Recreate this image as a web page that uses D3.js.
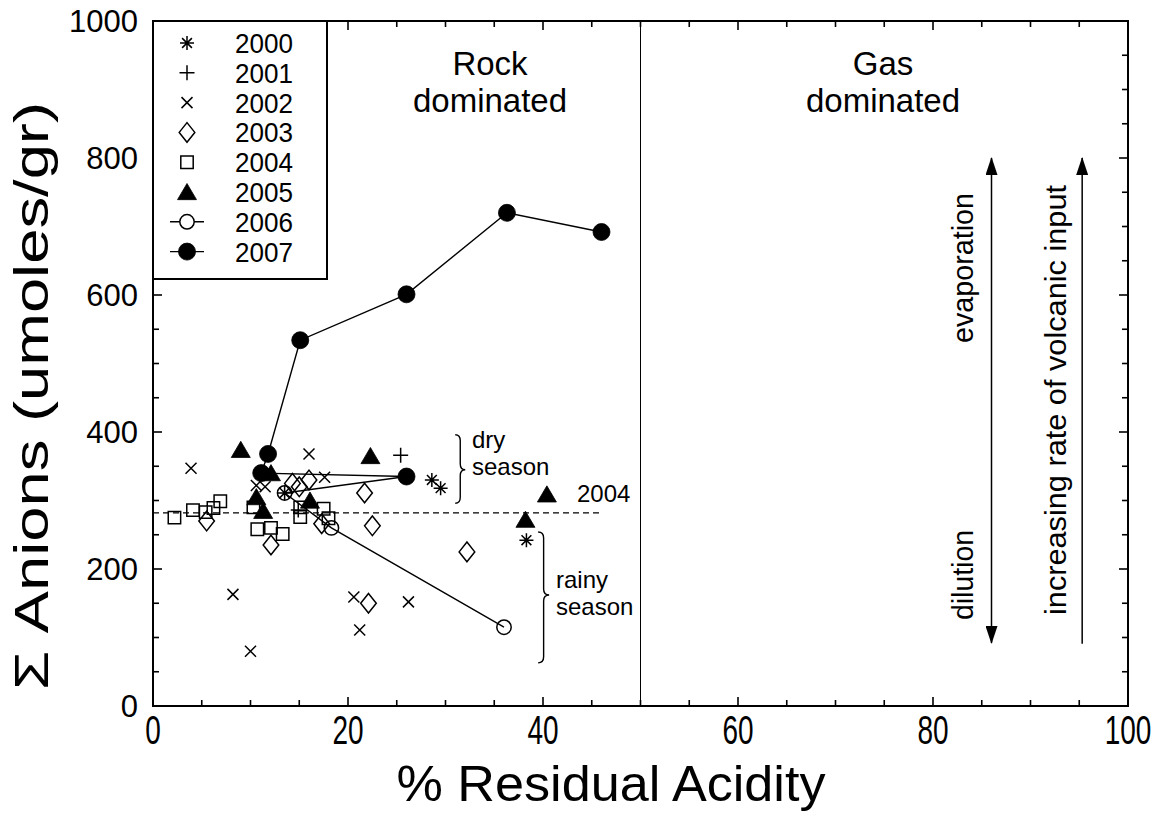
<!DOCTYPE html>
<html>
<head>
<meta charset="utf-8">
<script src="https://cdn.jsdelivr.net/npm/d3@7"></script>
<style>
  html, body { margin: 0; padding: 0; background: #fff; }
  svg { display: block; font-family: "Liberation Sans", Arial, sans-serif; }
</style>
</head>
<body>
<svg id="chart" width="1166" height="818"></svg>
<script>
// Residual acidity vs. total anions, by sampling year
const years = ["2000", "2001", "2002", "2003", "2004", "2005", "2006", "2007"];

const s2000 = [[13.5, 311], [28.6, 330], [29.5, 318], [38.3, 242]];
const s2001 = [[25.4, 366], [14.9, 286]];
const s2002 = [[3.9, 347], [10.6, 322], [11.5, 320], [16.0, 368], [17.6, 334],
               [8.2, 163], [10.0, 80], [20.6, 159], [21.2, 111], [26.2, 152]];
const s2003 = [[5.5, 270], [12.1, 235], [14.3, 325], [15.0, 320], [16.0, 330],
               [17.3, 266], [21.7, 311], [22.5, 263], [32.2, 225], [22.1, 150]];
const s2004 = [[2.2, 275], [4.1, 286], [5.4, 283], [6.2, 289], [6.9, 299],
               [10.3, 290], [10.7, 258], [12.1, 260], [13.3, 251], [15.1, 290],
               [15.1, 276], [17.5, 288], [18.0, 274]];
const s2005 = [[9.0, 374], [12.1, 340], [10.6, 305], [11.3, 285], [16.1, 300],
               [22.3, 365], [40.4, 309], [38.2, 272]];
const s2006 = [[26.0, 335], [13.5, 311], [18.3, 260], [36.0, 115]];
const s2007 = [[46.0, 692], [36.3, 720], [26.0, 601], [15.1, 534], [11.8, 368],
               [11.1, 340], [26.0, 335]];

const seriesValues = [s2000, s2001, s2002, s2003, s2004, s2005, s2006, s2007];
const markerKinds = ["asterisk", "plus", "cross", "diamond", "square", "triangle", "openCircle", "filledCircle"];
const connected = [false, false, false, false, false, false, true, true];

const xTickLabels = [0, 20, 40, 60, 80, 100];
const yTickLabels = [0, 200, 400, 600, 800, 1000];

// 2004 reference level and the region boundary
const refLevel = 282;
const refLevelEnd = 46;
const boundary = 50;

// vertical process arrows: [x, yFrom, yTo, double-headed]
const processArrows = [[86, 92, 800, true], [95.3, 91, 800, false]];

// ---------------------------------------------------------------
const svg = d3.select("#chart");
const L = 153, R = 1128, T = 21, B = 706;

const x = d3.scaleLinear().domain([0, 100]).range([L, R]);
const y = d3.scaleLinear().domain([0, 1000]).range([B, T]);

// marker shapes
function markerPath(kind) {
  switch (kind) {
    case "asterisk": {
      const r = 7, d = r * 0.7;
      return `M0,${-r}V${r}M${-d},${-d}L${d},${d}M${-d},${d}L${d},${-d}M${-r},0H${r}`;
    }
    case "plus": { const r = 7.5; return `M${-r},0H${r}M0,${-r}V${r}`; }
    case "cross": { const r = 5.5; return `M${-r},${-r}L${r},${r}M${-r},${r}L${r},${-r}`; }
    case "diamond": { const w = 7.8, h = 9.8; return `M0,${-h}L${w},0L0,${h}L${-w},0Z`; }
    case "square": { const s = 6.2; return `M${-s},${-s}H${s}V${s}H${-s}Z`; }
    case "triangle": { const w = 9.5, h = 8.5; return `M0,${-h}L${w},${h*0.9}L${-w},${h*0.9}Z`; }
    case "openCircle": return d3.arc()({innerRadius: 0, outerRadius: 7.2, startAngle: 0, endAngle: 2 * Math.PI});
    case "filledCircle": return d3.arc()({innerRadius: 0, outerRadius: 8.5, startAngle: 0, endAngle: 2 * Math.PI});
  }
}
const isSolid = kind => kind === "triangle" || kind === "filledCircle";

// region divider
svg.append("line")
  .attr("x1", x(boundary)).attr("x2", x(boundary))
  .attr("y1", T).attr("y2", B)
  .attr("stroke", "#000").attr("stroke-width", 1);

// 2004 dashed reference line
svg.append("line")
  .attr("x1", x(0)).attr("x2", x(refLevelEnd))
  .attr("y1", y(refLevel)).attr("y2", y(refLevel))
  .attr("stroke", "#000").attr("stroke-width", 1.2)
  .attr("stroke-dasharray", "6,4");

// connecting lines
const line = d3.line().x(d => x(d[0])).y(d => y(d[1]));
seriesValues.forEach((vals, i) => {
  if (!connected[i]) return;
  svg.append("path").attr("d", line(vals))
    .attr("fill", "none").attr("stroke", "#000").attr("stroke-width", 1.4);
});

// markers (filled circles last so they sit on top)
const drawOrder = [4, 3, 2, 1, 0, 6, 5, 7];
drawOrder.forEach(i => {
  const kind = markerKinds[i];
  svg.append("g").selectAll("path").data(seriesValues[i]).join("path")
    .attr("transform", d => `translate(${x(d[0])},${y(d[1])})`)
    .attr("d", markerPath(kind))
    .attr("fill", isSolid(kind) ? "#000" : "none")
    .attr("stroke", "#000")
    .attr("stroke-width", isSolid(kind) ? 0.8 : 1.5);
});

// process arrows
const defs = svg.append("defs");
defs.append("marker").attr("id", "head")
  .attr("viewBox", "0 0 18 12").attr("refX", 17).attr("refY", 6)
  .attr("markerWidth", 18).attr("markerHeight", 12)
  .attr("markerUnits", "userSpaceOnUse").attr("orient", "auto-start-reverse")
  .append("path").attr("d", "M0,0L18,6L0,12Z").attr("fill", "#000");

processArrows.forEach(([ax, y0, y1, dbl]) => {
  const ln = svg.append("line")
    .attr("x1", x(ax)).attr("x2", x(ax))
    .attr("y1", y(y0)).attr("y2", y(y1))
    .attr("stroke", "#000").attr("stroke-width", 1.5)
    .attr("marker-end", "url(#head)");
  if (dbl) ln.attr("marker-start", "url(#head)");
});

// frame
svg.append("rect").attr("x", L).attr("y", T).attr("width", R - L).attr("height", B - T)
  .attr("fill", "none").attr("stroke", "#000").attr("stroke-width", 2);

// ticks (inward on all four sides)
const xMinor = d3.range(0, 101, 5), yMinor = d3.range(0, 1001, 50);
const tickLen = v => (v % 20 === 0 ? 9 : 6);
const tickLenY = v => (v % 200 === 0 ? 9 : 6);
const tg = svg.append("g").attr("stroke", "#000").attr("stroke-width", 1.6);
xMinor.forEach(v => {
  tg.append("line").attr("x1", x(v)).attr("x2", x(v)).attr("y1", B).attr("y2", B - tickLen(v));
  tg.append("line").attr("x1", x(v)).attr("x2", x(v)).attr("y1", T).attr("y2", T + tickLen(v));
});
yMinor.forEach(v => {
  tg.append("line").attr("x1", L).attr("x2", L + tickLenY(v)).attr("y1", y(v)).attr("y2", y(v));
  tg.append("line").attr("x1", R).attr("x2", R - tickLenY(v)).attr("y1", y(v)).attr("y2", y(v));
});

// tick labels (x labels use a condensed face)
svg.append("g").selectAll("text").data(xTickLabels).join("text")
  .attr("transform", d => `translate(${x(d)},744) scale(0.7,1)`)
  .attr("text-anchor", "middle").attr("font-size", 40)
  .text(d => d);
svg.append("g").selectAll("text").data(yTickLabels).join("text")
  .attr("x", 138).attr("y", d => y(d) + 11)
  .attr("text-anchor", "end").attr("font-size", 31)
  .text(d => d);

// axis titles
svg.append("text").attr("x", 611).attr("y", 801)
  .attr("text-anchor", "middle").attr("font-size", 50)
  .attr("textLength", 429).attr("lengthAdjust", "spacingAndGlyphs")
  .text("% Residual Acidity");
svg.append("text").attr("transform", "translate(48,396) rotate(-90)")
  .attr("text-anchor", "middle").attr("font-size", 48)
  .attr("textLength", 588).attr("lengthAdjust", "spacingAndGlyphs")
  .text("Σ Anions (umoles/gr)");

// region labels
[["Rock", 490, 75], ["dominated", 490, 112], ["Gas", 883, 75], ["dominated", 883, 112]]
  .forEach(([t, tx, ty]) => {
    svg.append("text").attr("x", tx).attr("y", ty).attr("text-anchor", "middle")
      .attr("font-size", 33).text(t);
  });

// rotated process labels
[["evaporation", 973, 268, 150], ["dilution", 973, 575, 90], ["increasing rate of volcanic input", 1066, 400, 430]]
  .forEach(([t, tx, ty, len]) => {
    svg.append("text").attr("transform", `translate(${tx},${ty}) rotate(-90)`)
      .attr("text-anchor", "middle").attr("font-size", 30)
      .attr("textLength", len).attr("lengthAdjust", "spacingAndGlyphs").text(t);
  });

// season braces
function brace(x0, y1, y2, ym, w) {
  const r = 6, xm = x0 + w / 2;
  return `M${x0},${y1}Q${xm},${y1} ${xm},${y1 + r}L${xm},${ym - r}Q${xm},${ym} ${x0 + w},${ym}` +
         `Q${xm},${ym} ${xm},${ym + r}L${xm},${y2 - r}Q${xm},${y2} ${x0},${y2}`;
}
svg.append("path").attr("d", brace(x(31.0), y(396), y(296), y(345), 10))
  .attr("fill", "none").attr("stroke", "#000").attr("stroke-width", 1.4);
svg.append("path").attr("d", brace(x(39.5), y(254), y(63), y(162), 11))
  .attr("fill", "none").attr("stroke", "#000").attr("stroke-width", 1.4);

[["dry", 472, 448], ["season", 472, 475], ["rainy", 556, 588], ["season", 556, 615], ["2004", 577, 502]]
  .forEach(([t, tx, ty]) => {
    svg.append("text").attr("x", tx).attr("y", ty).attr("font-size", 24).text(t);
  });

// legend
const lg = svg.append("g");
lg.append("rect").attr("x", L).attr("y", T).attr("width", 174).attr("height", 258)
  .attr("fill", "#fff").attr("stroke", "#000").attr("stroke-width", 2);
years.forEach((yr, i) => {
  const cy = 43 + i * 29.8;
  const kind = markerKinds[i];
  if (connected[i]) {
    lg.append("line").attr("x1", 170).attr("x2", 204).attr("y1", cy).attr("y2", cy)
      .attr("stroke", "#000").attr("stroke-width", 1.4);
  }
  lg.append("path").attr("transform", `translate(187,${cy})`)
    .attr("d", markerPath(kind))
    .attr("fill", kind === "openCircle" ? "#fff" : (isSolid(kind) ? "#000" : "none"))
    .attr("stroke", "#000")
    .attr("stroke-width", isSolid(kind) ? 0.8 : 1.5);
  lg.append("text").attr("x", 235).attr("y", cy + 10).attr("font-size", 28)
    .attr("textLength", 58).attr("lengthAdjust", "spacingAndGlyphs").text(yr);
});
</script>
</body>
</html>
